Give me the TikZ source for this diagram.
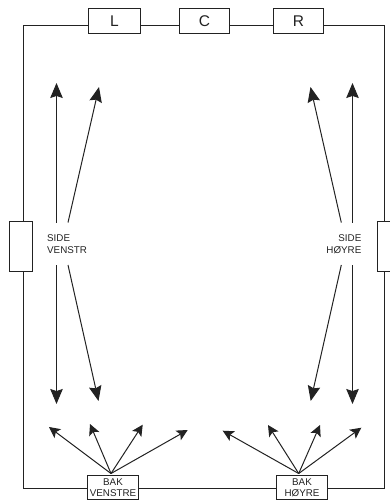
\documentclass[tikz,border=0pt]{standalone}
\usepackage{fontspec}
\setmainfont{Liberation Sans}
\usetikzlibrary{arrows.meta}
\definecolor{ink}{HTML}{222222}
\tikzset{
  x=1pt,y=-1pt,
  wall/.style={draw=ink,line width=1pt},
  speaker/.style={draw=ink,line width=1pt,fill=white,inner sep=0pt,anchor=center,text=ink},
  front/.style={speaker,minimum height=25pt,font=\fontsize{15.5}{15.5}\selectfont},
  side/.style={speaker,minimum width=23pt,minimum height=50pt},
  back/.style={speaker,minimum width=51pt,minimum height=24pt,align=center,font=\fontsize{9.8}{11.5}\selectfont},
  label/.style={inner sep=0pt,text=ink,font=\fontsize{9.8}{11.5}\selectfont},
  sidearrow/.style={draw=ink,line width=1pt,-{Stealth[length=15pt,width=12.5pt,inset=2pt]}},
  backarrow/.style={draw=ink,line width=1pt,-{Stealth[length=11pt,width=11pt,inset=2.5pt]}}
}
\begin{document}
\begin{tikzpicture}
\useasboundingbox (0,0) rectangle (390,500);
\clip (0,0) rectangle (390,500);
\coordinate (nw) at (23.5,25.5);
\coordinate (se) at (384.5,488.5);
\draw[wall] (nw) rectangle (se);
\node[front,minimum width=52pt] (L) at (114.5,21) {L};
\node[front,minimum width=50pt] (C) at (204.5,21) {C};
\node[front,minimum width=50pt] (R) at (298.5,21) {R};
\node[side] (SL) at (21,246.5) {};
\node[side] (SR) at (389,246.5) {};
\node[back] (BL) at (113,487.5) {BAK\\VENSTRE};
\node[back] (BR) at (302,487.5) {BAK\\HØYRE};
\node[label,align=left,anchor=west] (TL) at (47,244) {SIDE\\VENSTR};
\node[label,align=right,anchor=east] (TR) at (361.5,244) {SIDE\\HØYRE};
% side left
\coordinate (a1) at (56.5,222.5); \coordinate (a1t) at (56.5,83);
\coordinate (a2) at (68,222.5); \coordinate (a2t) at (99,87);
\coordinate (a3) at (56.5,265); \coordinate (a3t) at (56.5,404);
\coordinate (a4) at (68,265); \coordinate (a4t) at (98.5,401);
% side right
\coordinate (b1) at (352.5,222.5); \coordinate (b1t) at (352.5,83);
\coordinate (b2) at (341.3,222.5); \coordinate (b2t) at (310.5,87);
\coordinate (b3) at (352.5,265); \coordinate (b3t) at (352.5,404);
\coordinate (b4) at (341.3,265); \coordinate (b4t) at (310.7,401);
\foreach \s/\t in {a1/a1t,a2/a2t,a3/a3t,a4/a4t,b1/b1t,b2/b2t,b3/b3t,b4/b4t}
  \draw[sidearrow] (\s) -- (\t);
% back
\coordinate (o1) at (111,473.5);
\coordinate (o2) at (298.7,473.5);
\coordinate (c1) at (49,427); \coordinate (c2) at (90,424); \coordinate (c3) at (142.7,424.7); \coordinate (c4) at (187.7,430);
\coordinate (d1) at (222.7,430.7); \coordinate (d2) at (268,425); \coordinate (d3) at (320,425); \coordinate (d4) at (361.3,427.7);
\foreach \t in {c1,c2,c3,c4} \draw[backarrow] (o1) -- (\t);
\foreach \t in {d1,d2,d3,d4} \draw[backarrow] (o2) -- (\t);
\end{tikzpicture}
\end{document}
